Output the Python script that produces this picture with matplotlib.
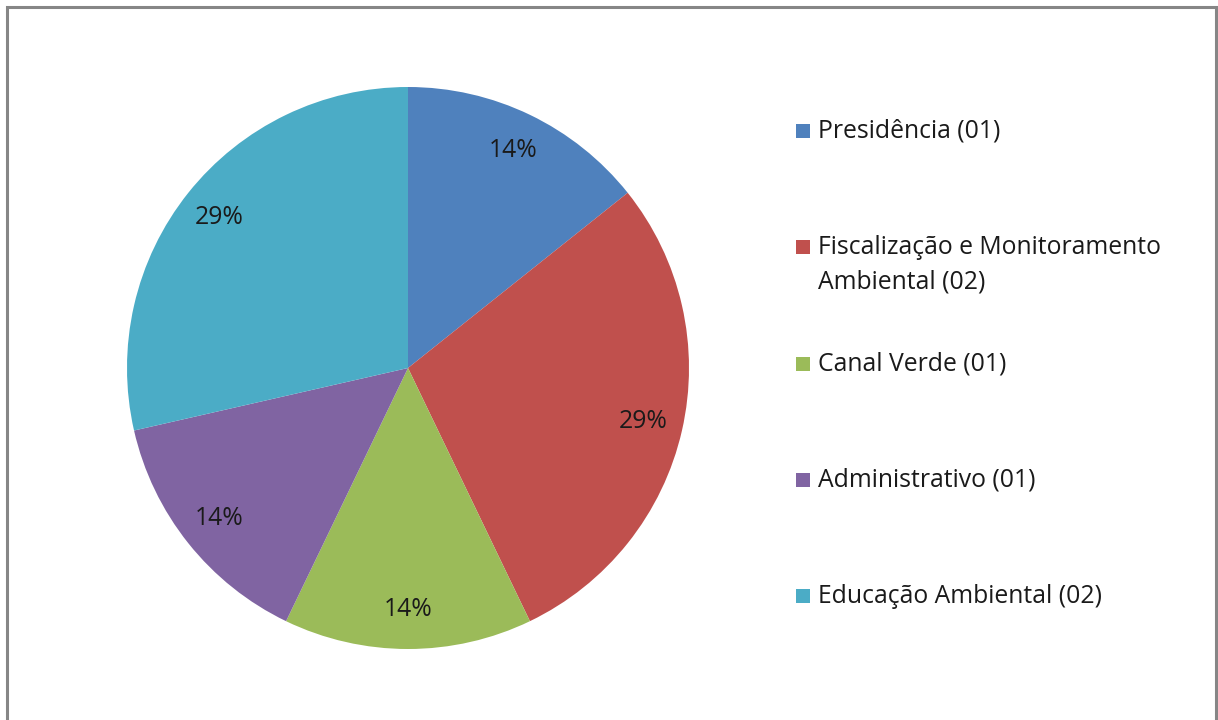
import matplotlib
matplotlib.use('Agg')
import matplotlib.pyplot as plt
from matplotlib.patches import Rectangle

# data
labels = ['Presidência (01)', 'Fiscalização e Monitoramento\nAmbiental (02)',
          'Canal Verde (01)', 'Administrativo (01)', 'Educação Ambiental (02)']
counts = [1, 2, 1, 1, 2]
colors = ['#4F81BD', '#C0504D', '#9BBB59', '#8064A2', '#4BACC6']

plt.rcParams['font.family'] = ['Open Sans', 'DejaVu Sans']
FS = 17.8

W, H = 1218, 720
fig = plt.figure(figsize=(W / 100, H / 100), dpi=100)

# pie: centre (408, 368) px, radius ~281 px
cx, cy, half = 408, 368, 300
ax = fig.add_axes([(cx - half) / W, (H - cy - half) / H, 2 * half / W, 2 * half / H])
ax.pie(counts, colors=colors, startangle=90, counterclock=False,
       radius=281 / half, autopct='%1.0f%%', pctdistance=0.86,
       wedgeprops=dict(linewidth=0),
       textprops=dict(fontsize=FS, color='#1a1a1a'))
ax.set_xlim(-1, 1)
ax.set_ylim(-1, 1)
ax.set_aspect('equal')
ax.axis('off')

# legend drawn by hand (first lines evenly spaced, extra line hangs below)
x_box, x_txt = 796, 818
y0, dy = 131, 116.25
for i, (lab, c) in enumerate(zip(labels, colors)):
    y = y0 + i * dy
    fig.add_artist(Rectangle((x_box / W, (H - y - 7) / H), 14 / W, 14 / H,
                             transform=fig.transFigure, fc=c, ec='none'))
    fig.text(x_txt / W, (H - y + 12) / H, lab, fontsize=FS, color='#1a1a1a',
             va='top', ha='left', linespacing=1.5)

# outer chart border
fig.add_artist(Rectangle((7 / W, -0.02), (1216 - 7) / W, (H - 7) / H + 0.02,
                         transform=fig.transFigure, fill=False, ec='#868686', lw=2.2))

fig.savefig('out.png', dpi=100)
